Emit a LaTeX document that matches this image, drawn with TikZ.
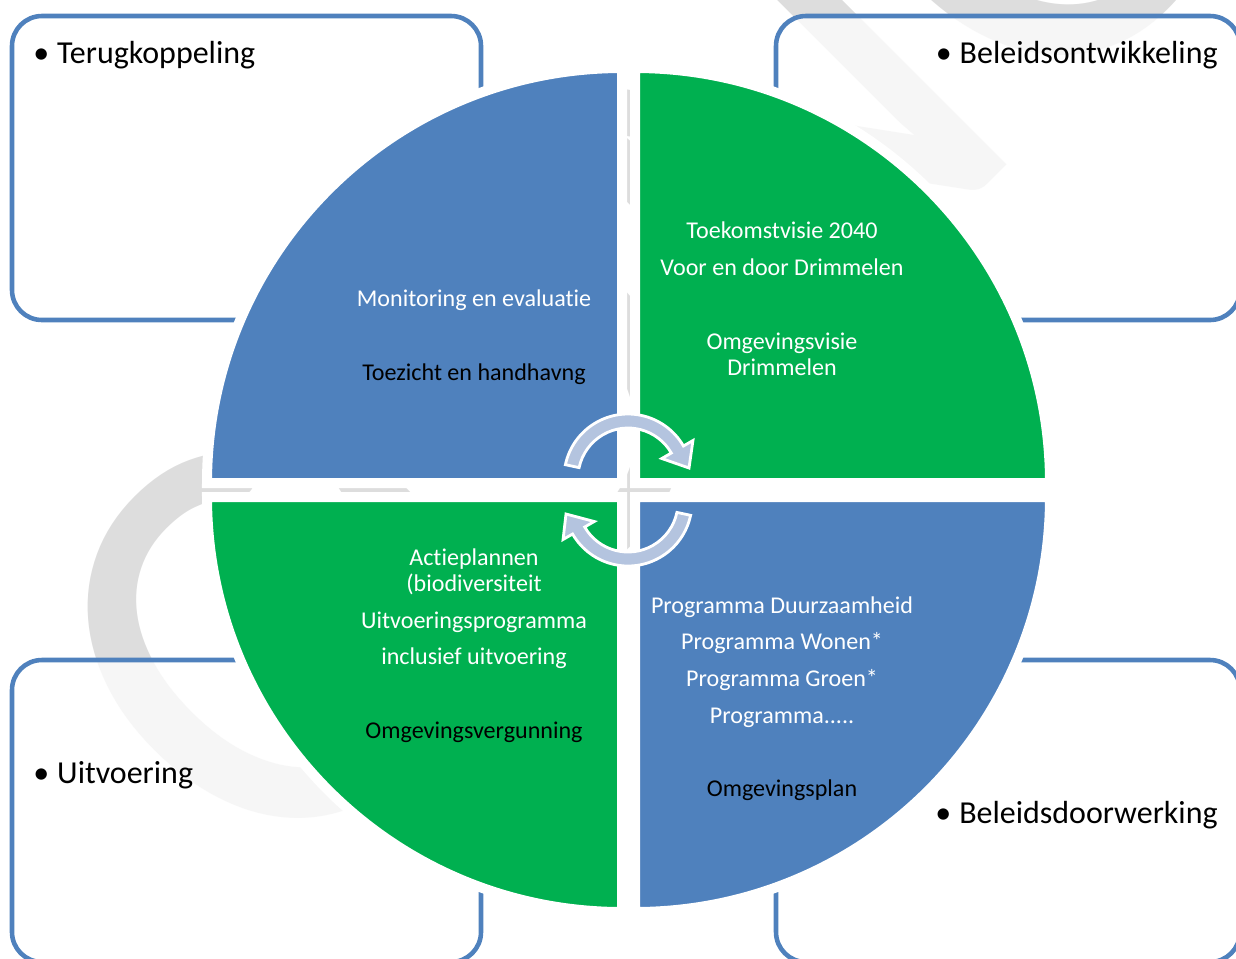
\documentclass[tikz,border=0pt]{standalone}
\usepackage{fontspec}
\setmainfont{Carlito}[Ligatures=NoCommon]
\usepackage{tikz}

\definecolor{boxblue}{HTML}{4F81BD}
\definecolor{quadgreen}{HTML}{00B050}
\definecolor{arrowfill}{HTML}{B4C4DF}
\definecolor{markgray}{HTML}{DDDDDD}

\begin{document}
\begin{tikzpicture}[x=0.02cm, y=-0.02cm,
    phasebox/.style={draw=boxblue, line width=2.6pt, fill=white, fill opacity=0.75, rounded corners=0.6cm},
    quadrant/.style={draw=white, line width=0.2cm},
    cyclearrow/.style={fill=arrowfill, draw=white, line width=1.6pt},
    phaselabel/.style={font=\fontsize{18.2}{20}\selectfont, inner sep=0pt},
    inner/.style={font=\fontsize{13.7}{16}\selectfont, text=white, inner sep=0pt, anchor=base}]
    \useasboundingbox (0,0) rectangle (1236,958);

    % watermark
    \node[rotate=45, anchor=base west, text=markgray, inner sep=0pt,
          font=\fontsize{335}{335}\selectfont] (mark) at (274,898) {CONCEPT};

    % phase boxes
    \draw[phasebox] (12,16) rectangle (481,320);
    \draw[phasebox] (776,16) rectangle (1240,320);
    \draw[phasebox] (12,660) rectangle (481,962);
    \draw[phasebox] (776,660) rectangle (1240,962);

    % quadrants
    \filldraw[quadrant, fill=boxblue] (622,483) -- (207,483) arc[start angle=180, end angle=270, radius=415] -- cycle;
    \filldraw[quadrant, fill=quadgreen] (635,483) -- (635,68) arc[start angle=270, end angle=360, radius=415] -- cycle;
    \filldraw[quadrant, fill=quadgreen] (622,497) -- (207,497) arc[start angle=180, end angle=90, radius=415] -- cycle;
    \filldraw[quadrant, fill=boxblue] (635,497) -- (1050,497) arc[start angle=0, end angle=90, radius=415] -- cycle;

    % cycle arrows
    \begin{scope}[shift={(628,478)}, y=0.02cm]
        \filldraw[cyclearrow] (168:50) -- (168:64) arc[start angle=168, end angle=30, radius=64]
            -- (30:75) -- (61,10) -- (30:39) -- (30:50) arc[start angle=30, end angle=168, radius=50] -- cycle;
    \end{scope}
    \begin{scope}[shift={(628,502)}, y=0.02cm]
        \filldraw[cyclearrow] (-12:50) -- (-12:64) arc[start angle=-12, end angle=-150, radius=64]
            -- (210:75) -- (-62,-12) -- (210:39) -- (210:50) arc[start angle=-150, end angle=-12, radius=50] -- cycle;
    \end{scope}

    % phase labels
    \node[phaselabel, anchor=base west] (terug) at (33,63) {\makebox[13.6pt][l]{\textbullet}Terugkoppeling};
    \node[phaselabel, anchor=base east] (beleid) at (1218,63) {\makebox[13.6pt][l]{\textbullet}Beleidsontwikkeling};
    \node[phaselabel, anchor=base west] (uitvoer) at (33,783) {\makebox[13.6pt][l]{\textbullet}Uitvoering};
    \node[phaselabel, anchor=base east] (doorwerk) at (1218,823) {\makebox[13.6pt][l]{\textbullet}Beleidsdoorwerking};

    % top left
    \node[inner] (monitor) at (474,306) {Monitoring en evaluatie};
    \node[inner, text=black] (toezicht) at (474,380) {Toezicht en handhavng};

    % top right
    \node[inner] (toekomst) at (782,238) {Toekomstvisie 2040};
    \node[inner] (voordoor) at (782,275) {Voor en door Drimmelen};
    \node[inner] (omgvisie) at (782,349) {Omgevingsvisie};
    \node[inner] (drimmelen) at (782,375) {Drimmelen};

    % bottom left
    \node[inner] (actie) at (474,565) {Actieplannen};
    \node[inner] (biodiv) at (474,591) {(biodiversiteit};
    \node[inner] (uitvprog) at (474,628) {Uitvoeringsprogramma};
    \node[inner] (inclusief) at (474,664) {inclusief uitvoering};
    \node[inner, text=black] (vergunning) at (474,738) {Omgevingsvergunning};

    % bottom right
    \node[inner] (duurzaam) at (782,613) {Programma Duurzaamheid};
    \node[inner] (wonen) at (782,649) {Programma Wonen*};
    \node[inner] (groen) at (782,686) {Programma Groen*};
    \node[inner] (overig) at (782,723) {Programma.....};
    \node[inner, text=black] (omgplan) at (782,796) {Omgevingsplan};
\end{tikzpicture}
\end{document}
